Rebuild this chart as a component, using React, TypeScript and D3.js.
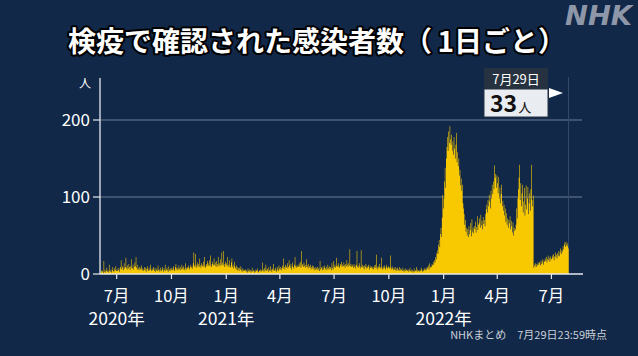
import React from "react";
import * as d3 from "d3";

// ---- data (daily counts) ----
const jun2020 = [2,5,3,4,1,17,3,6,2,4, 8,3,5,2,12,4,3,6,2,5, 9,4,3,7,5,10,4];
const jul2020 = [6,4,8,5,3,7,9,18,6,10, 8,5,14,7,9,21,8,6,11,7, 13,9,5,10,19,8,7,12,6,9, 15];
const aug2020 = [10,22,8,6,12,7,5,9,6,8, 11,5,7,4,6,9,5,8,3,7, 10,6,4,8,5,12,6,4,7,5, 9];
const sep2020 = [6,4,8,3,5,7,4,11,5,6, 3,8,5,4,9,6,3,7,5,12, 4,6,8,5,3,10,6,4,7,5];
const oct2020 = [8,5,7,10,6,4,9,13,7,5, 8,6,11,7,5,9,6,12,8,6, 10,7,5,14,8,6,9,7,11,8, 6];
const nov2020 = [9,12,8,10,7,14,28,11,9,26, 12,8,15,10,13,9,20,11,8,14, 12,10,16,9,22,11,8,13,10,17];
const dec2020 = [14,11,18,10,24,12,9,16,13,11, 20,12,15,10,17,9,13,22,11,14, 10,19,12,28,15,11,30,13,9,16, 12];
const jan2021 = [14,10,22,12,9,18,11,8,15,20, 9,12,7,16,10,8,6,11,5,9, 7,4,8,6,10,5,3,7,4,6, 5];
const feb2021 = [4,6,3,5,2,7,4,3,6,5, 2,4,8,3,5,4,2,6,3,5, 4,7,3,2,5,4,6,3];
const mar2021 = [5,15,4,6,3,8,5,12,4,7, 6,3,9,5,4,10,6,3,7,5, 13,4,6,8,5,3,9,6,4,11, 7];
const apr2021 = [6,9,5,8,11,7,20,9,6,12, 10,8,14,7,9,18,11,8,13,6, 10,15,9,7,12,22,10,8,11,9];
const may2021 = [12,9,14,10,16,8,30,11,13,9, 15,10,12,8,19,9,11,7,13,10, 8,12,6,9,11,7,10,5,8,6, 9];
const jun2021 = [7,5,9,6,8,4,17,6,9,7, 5,10,6,8,11,7,5,9,6,12, 8,6,10,7,9,5,14,8,6,17];
const jul2021 = [9,12,8,10,21,11,9,14,10,8, 13,11,16,9,12,10,15,11,8,13, 10,18,12,9,14,11,32,10,13,9, 12];
const aug2021 = [10,8,13,9,11,7,12,30,9,11, 8,14,10,7,31,9,12,8,10,6, 11,9,13,7,10,8,12,9,6,11, 8];
const sep2021 = [8,10,7,9,6,11,8,12,7,25, 9,6,10,8,13,7,9,21,8,6, 10,7,11,8,6,9,12,7,8,10];
const oct2021 = [9,7,24,8,6,10,7,5,8,6, 9,5,7,4,8,6,5,9,4,7, 5,6,4,8,5,3,6,4,7,5, 6];
const nov2021 = [4,6,3,5,8,4,3,6,5,2, 4,7,3,5,4,9,3,6,4,5, 3,6,4,8,5,3,6,4,7,5];
const dec2021 = [6,8,5,9,7,11,6,14,8,10, 9,13,11,16,12,18,15,22,19,27, 31,26,38,44,35,52,60,48,73,103,85];
const jan2022 = [98,120,138,112,150,165,178,160,185,170, 192,175,168,181,160,172,155,178,163,150, 168,183,145,158,140,150,128,135,115,124,108];
const feb2022 = [116,92,85,78,64,70,55,60,50,58, 48,62,52,57,66,49,71,55,60,53, 62,58,68,54,61,75,57,64];
const mar2022 = [66,72,60,77,63,69,58,74,65,70, 62,78,84,90,80,96,88,103,94,85, 108,98,116,104,120,110,141,125,130,112,128];
const apr2022 = [118,105,126,98,112,92,104,116,88,95, 82,90,76,85,68,79,64,72,60,70, 66,75,58,69,62,54,67,50,60,56];
const may2022 = [58,64,85,72,98,110,125,142,96,118, 88,105,116,80,94,112,76,90,115,84, 98,113,78,92,105,82,110,142,96,88,102];
const jun2022 = [8,12,10,14,9,13,11,15,12,16, 14,11,17,13,19,15,12,18,16,20, 17,22,15,19,24,18,21,16,23,20];
const jul2022 = [19,24,21,26,18,23,28,22,25,20, 27,24,30,23,28,33,26,31,29,36, 32,38,41,35,42,37,40,36,33];

const months: [number, number, number, number[]][] = [
  [2020, 5, 4, jun2020], [2020, 6, 1, jul2020], [2020, 7, 1, aug2020], [2020, 8, 1, sep2020],
  [2020, 9, 1, oct2020], [2020, 10, 1, nov2020], [2020, 11, 1, dec2020],
  [2021, 0, 1, jan2021], [2021, 1, 1, feb2021], [2021, 2, 1, mar2021], [2021, 3, 1, apr2021],
  [2021, 4, 1, may2021], [2021, 5, 1, jun2021], [2021, 6, 1, jul2021], [2021, 7, 1, aug2021],
  [2021, 8, 1, sep2021], [2021, 9, 1, oct2021], [2021, 10, 1, nov2021], [2021, 11, 1, dec2021],
  [2022, 0, 1, jan2022], [2022, 1, 1, feb2022], [2022, 2, 1, mar2022], [2022, 3, 1, apr2022],
  [2022, 4, 1, may2022], [2022, 5, 1, jun2022], [2022, 6, 1, jul2022],
];

const yTicks = [0, 100, 200];
const xTickDates: [number, number][] = [
  [2020, 6], [2020, 9], [2021, 0], [2021, 3], [2021, 6], [2021, 9], [2022, 0], [2022, 3], [2022, 6],
];
const xTickLabels = ["7月", "10月", "1月", "4月", "7月", "10月", "1月", "4月", "7月"];
const yearLabels: [number, number, string][] = [
  [2020, 6, "2020年"], [2021, 0, "2021年"], [2022, 0, "2022年"],
];

const titleText = "検疫で確認された感染者数（\u20091日ごと）";
const tipDate = "7月29日";
const tipValue = "33";
const sourceText = "NHKまとめ　7月29日23:59時点";

const W = 638, H = 356;
const FONT = "'Noto Sans CJK JP', 'Noto Sans', sans-serif";

export default function App() {
  const daily = months.flatMap(([yy, mm, s, vals]) =>
    vals.map((v, i) => ({ date: new Date(yy, mm, s + i), value: v }))
  );
  const last = daily[daily.length - 1];
  const series = [...daily, { date: d3.timeDay.offset(last.date, 1), value: last.value }];

  const x = d3.scaleTime()
    .domain([new Date(2020, 5, 3), new Date(2022, 7, 23)])
    .range([100, 583]);
  const y = d3.scaleLinear().domain([0, 200]).range([274, 120]);

  const area = d3.area<{ date: Date; value: number }>()
    .x(d => x(d.date))
    .y0(y(0))
    .y1(d => y(d.value))
    .curve(d3.curveStepAfter);

  const lastX = x(d3.timeDay.offset(last.date, 1));
  const x0 = 100, x1 = 583;
  const axisTop = 78;

  return (
    <svg width={W} height={H} style={{ position: "fixed", left: 0, top: 0 }} fontFamily={FONT}>
      <rect x={0} y={0} width={W} height={H} fill="#112848" />
      {/* NHK logo */}
      <text x={565} y={25} fill="#8d97a8" fontSize={26} fontWeight="bold" fontStyle="italic"
        textLength={67} lengthAdjust="spacingAndGlyphs" fontFamily="'DejaVu Sans', sans-serif">NHK</text>
      {/* title */}
      <text x={317} y={52} textAnchor="middle" fontSize={28} fontWeight="bold" fill="#ffffff"
        stroke="#000000" strokeWidth={4} strokeLinejoin="round" style={{ paintOrder: "stroke" }}>{titleText}</text>

      {/* gridlines */}
      {yTicks.filter(t => t > 0).map(t => (
        <line key={t} x1={x0} x2={582} y1={y(t)} y2={y(t)} stroke="#6f7d93" strokeWidth={1.2} />
      ))}
      {/* current date vertical line */}
      <line x1={568.5} x2={568.5} y1={axisTop - 1} y2={y(0)} stroke="#34486a" strokeWidth={1} />

      {/* bars */}
      <path d={area(series) || ""} fill="#f8c800" />

      {/* axes */}
      <line x1={x0} x2={x0} y1={axisTop} y2={y(0)} stroke="#e6e9ee" strokeWidth={1.3} />
      <line x1={x0} x2={x1} y1={y(0)} y2={y(0)} stroke="#e6e9ee" strokeWidth={1.3} />
      {yTicks.map(t => (
        <g key={t}>
          <line x1={93} x2={x0} y1={y(t)} y2={y(t)} stroke="#e6e9ee" strokeWidth={1.2} />
          <text x={90} y={y(t) + 6.2} textAnchor="end" fontSize={17} fill="#ffffff">{t}</text>
        </g>
      ))}
      <text x={85} y={88} textAnchor="middle" fontSize={12} fill="#ffffff">人</text>
      {xTickDates.map(([yy, mm], i) => {
        const tx = x(new Date(yy, mm, 1));
        return (
          <g key={i}>
            <line x1={tx} x2={tx} y1={y(0)} y2={y(0) + 5} stroke="#e6e9ee" strokeWidth={1.2} />
            <text x={tx} y={301.5} textAnchor="middle" fontSize={16.5} fill="#ffffff">{xTickLabels[i]}</text>
          </g>
        );
      })}
      {yearLabels.map(([yy, mm, lab]) => (
        <text key={lab} x={x(new Date(yy, mm, 1))} y={324.5} textAnchor="middle" fontSize={17.5} fill="#ffffff">{lab}</text>
      ))}

      {/* tooltip */}
      <g>
        <rect x={484} y={68} width={64} height={21} fill="#263240" />
        <text x={516} y={83.5} textAnchor="middle" fontSize={13} fill="#ffffff">{tipDate}</text>
        <rect x={484} y={89} width={64} height={28} fill="#e9ecf0" stroke="#263240" strokeWidth={1} />
        <text x={490} y={112} fontSize={23} fontWeight="bold" fill="#111111">{tipValue}
          <tspan fontSize={13} fontWeight="normal" dx={1}>人</tspan>
        </text>
        <path d={`M549,88 L${Math.min(lastX - 5.5, 563)},93 L549,98 Z`} fill="#ffffff" />
      </g>

      {/* source */}
      <text x={607} y={339} textAnchor="end" fontSize={11} fill="#c9ced6">{sourceText}</text>
    </svg>
  );
}
